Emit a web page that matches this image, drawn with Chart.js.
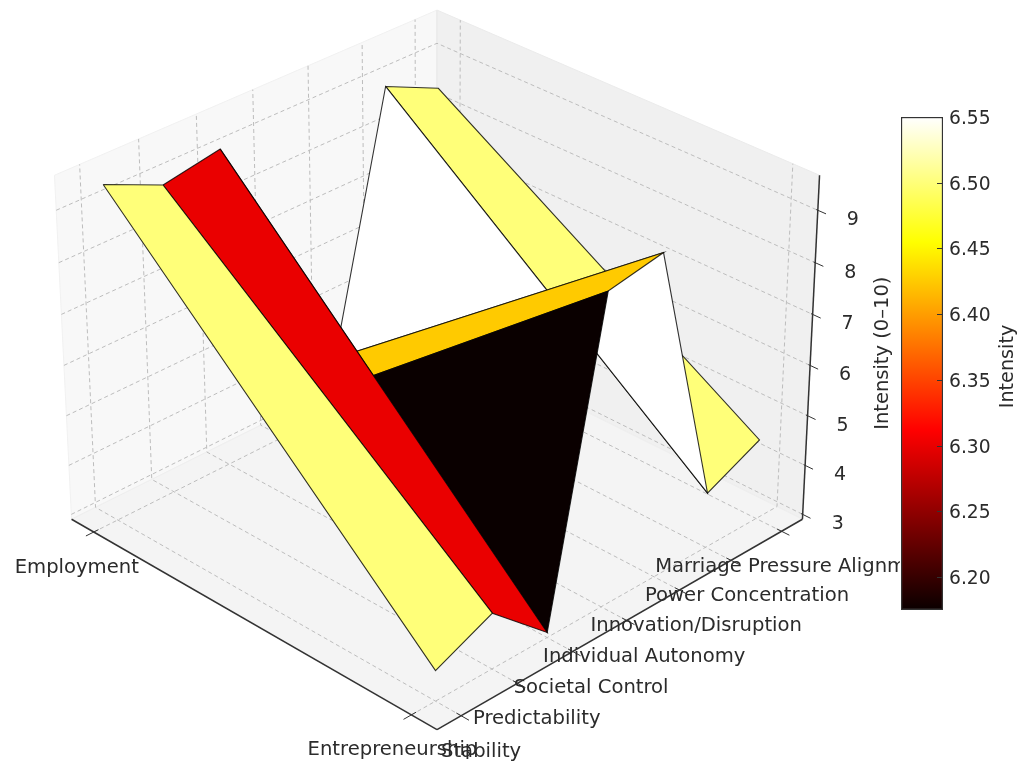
<!DOCTYPE html>
<html>
<head>
<meta charset="utf-8">
<title>Intensity surface</title>
<script src="https://cdn.jsdelivr.net/npm/chart.js@4"></script>
<style>
  html, body { margin: 0; padding: 0; background: #fff; overflow: hidden; }
  #wrap { position: relative; width: 1025px; height: 762px; filter: blur(0.45px); }
  #surface { position: absolute; left: 0; top: 0; }
  #colorbar { position: absolute; left: 900px; top: 0; background: #fff; }
</style>
</head>
<body>
<div id="wrap">
  <canvas id="surface" width="1025" height="762"></canvas>
  <canvas id="colorbar" width="125" height="762"></canvas>
</div>
<script>
// dados
const xCategories = ['Employment', 'Entrepreneurship'];
const yCategories = ['Stability', 'Predictability', 'Societal Control', 'Individual Autonomy',
  'Innovation/Disruption', 'Power Concentration', 'Marriage Pressure Alignment'];
const employmentValues = [9.5, 9.0, 9.2, 3.5, 4.0, 9.0, 8.5];
const entrepreneurshipValues = [3.5, 4.0, 3.0, 9.0, 9.2, 4.0, 4.5];
const zTicks = [3, 4, 5, 6, 7, 8, 9];
const colorbarTicks = [6.20, 6.25, 6.30, 6.35, 6.40, 6.45, 6.50, 6.55];

// limites dos eixos
const xLimits = [-0.075, 1.075];
const yLimits = [-0.42, 6.42];
const zLimits = [2.90, 9.66];
const colorLimits = [6.175, 6.55];

// camera
const elevation = 30 * Math.PI / 180;
const boxHeight = 0.531;
const cameraDistance = 11.6;
const viewScale = 373.8;
const viewCenter = [437, 351.2];

const FONT = 'DejaVu Sans';
const TEXT_COLOR = '#2b2b2b';
const GRID = { borderColor: '#bdbdbd', borderWidth: 1, borderDash: [4, 3] };
const AXIS = { borderColor: '#333333', borderWidth: 1.5 };

// colormap "hot"
const hotStops = [
  [0, [10, 0, 0]],
  [0.365, [255, 0, 0]],
  [0.746, [255, 255, 0]],
  [1, [255, 255, 255]]
];

function hotColor(t) {
  t = Math.min(1, Math.max(0, t));
  for (let i = 1; i < hotStops.length; i++) {
    const [t0, c0] = hotStops[i - 1];
    const [t1, c1] = hotStops[i];
    if (t <= t1) {
      const k = (t - t0) / (t1 - t0);
      return `rgb(${c0.map((c, n) => Math.round(c + (c1[n] - c) * k)).join(',')})`;
    }
  }
  return 'rgb(255,255,255)';
}

function unit(value, limits) {
  return (value - limits[0]) / (limits[1] - limits[0]);
}

// projeta coordenadas de dados no plano de visualização
function project(x, y, z) {
  const u = unit(x, xLimits);
  const v = unit(y, yLimits);
  const w = unit(z, zLimits);
  const side = u + v - 1;
  const depth = v - u;
  const height = boxHeight * (2 * w - 1);
  const up = height * Math.cos(elevation) + depth * Math.sin(elevation);
  const away = depth * Math.cos(elevation) - height * Math.sin(elevation);
  const f = 1 / (1 + away / cameraDistance);
  return { x: side * f, y: up * f };
}

function lineDataset(points, style) {
  return {
    data: points.map(p => project(...p)),
    showLine: true,
    fill: false,
    tension: 0,
    pointRadius: 0,
    pointHoverRadius: 0,
    ...style
  };
}

function polygonDataset(points, color, edge, edgeWidth) {
  return lineDataset([...points, points[0]], {
    fill: 'shape',
    backgroundColor: color,
    borderColor: edge,
    borderWidth: edgeWidth
  });
}

function buildPanes() {
  const [x0, x1] = xLimits;
  const [y0, y1] = yLimits;
  const [z0, z1] = zLimits;
  return [
    polygonDataset([[x0, y0, z0], [x0, y1, z0], [x0, y1, z1], [x0, y0, z1]], '#f8f8f8', '#f1f1f1', 1),
    polygonDataset([[x0, y1, z0], [x1, y1, z0], [x1, y1, z1], [x0, y1, z1]], '#f0f0f0', '#ebebeb', 1),
    polygonDataset([[x0, y0, z0], [x1, y0, z0], [x1, y1, z0], [x0, y1, z0]], '#f4f4f4', '#eeeeee', 1)
  ];
}

function buildGrid() {
  const [x0, x1] = xLimits;
  const [y0, y1] = yLimits;
  const [z0, z1] = zLimits;
  const lines = [];
  zTicks.forEach(z => {
    lines.push(lineDataset([[x0, y0, z], [x0, y1, z], [x1, y1, z]], GRID));
  });
  yCategories.forEach((_, y) => {
    lines.push(lineDataset([[x1, y, z0], [x0, y, z0], [x0, y, z1]], GRID));
  });
  xCategories.forEach((_, x) => {
    lines.push(lineDataset([[x, y0, z0], [x, y1, z0], [x, y1, z1]], GRID));
  });
  return lines;
}

function buildAxes() {
  const [x0, x1] = xLimits;
  const [y0, y1] = yLimits;
  const [z0, z1] = zLimits;
  const xSpan = x1 - x0;
  const ySpan = y1 - y0;
  const lines = [
    lineDataset([[x0, y0, z0], [x1, y0, z0]], AXIS),
    lineDataset([[x1, y0, z0], [x1, y1, z0]], AXIS),
    lineDataset([[x1, y1, z0], [x1, y1, z1]], AXIS)
  ];
  const tick = { borderColor: '#333333', borderWidth: 1 };
  xCategories.forEach((_, x) => {
    lines.push(lineDataset([[x, y0 - ySpan * 0.02, z0], [x, y0 + ySpan * 0.012, z0]], tick));
  });
  yCategories.forEach((_, y) => {
    lines.push(lineDataset([[x1 - xSpan * 0.012, y, z0], [x1 + xSpan * 0.02, y, z0]], tick));
  });
  zTicks.forEach(z => {
    lines.push(lineDataset([[x1 - xSpan * 0.004, y1, z], [x1 + xSpan * 0.02, y1, z]], tick));
  });
  return lines;
}

// faces da superfície, do fundo para a frente
function buildSurface() {
  const faces = [];
  for (let j = yCategories.length - 2; j >= 0; j--) {
    const mean = (employmentValues[j] + entrepreneurshipValues[j] +
      employmentValues[j + 1] + entrepreneurshipValues[j + 1]) / 4;
    faces.push(polygonDataset([
      [0, j, employmentValues[j]],
      [1, j, entrepreneurshipValues[j]],
      [1, j + 1, entrepreneurshipValues[j + 1]],
      [0, j + 1, employmentValues[j + 1]]
    ], hotColor(unit(mean, colorLimits)), 'rgba(0,0,0,0.8)', 1.1));
  }
  return faces;
}

// textos dos eixos 3D
const axisLabels = {
  id: 'axisLabels',
  afterDraw(chart) {
    const { ctx, scales } = chart;
    const x1 = xLimits[1];
    const [y0, y1] = yLimits;
    const z0 = zLimits[0];
    const put = (text, p, dx, dy) => {
      ctx.fillText(text, scales.x.getPixelForValue(p.x) + dx, scales.y.getPixelForValue(p.y) + dy);
    };
    ctx.save();
    ctx.font = `19.6px "${FONT}"`;
    ctx.fillStyle = TEXT_COLOR;
    ctx.textAlign = 'center';
    ctx.textBaseline = 'middle';
    xCategories.forEach((label, x) => put(label, project(x, y0, z0), x === 0 ? -17 : -19, 35.5));
    yCategories.forEach((label, y) => put(label, project(x1, y, z0), 20 - 0.8 * y, 36));

    ctx.font = `19px "${FONT}"`;
    zTicks.forEach(z => put(String(z), project(x1, y1, z), 35, 10));

    const mid = project(x1, y1, (zLimits[0] + zLimits[1]) / 2);
    ctx.font = `19.5px "${FONT}"`;
    ctx.translate(scales.x.getPixelForValue(mid.x) + 72, scales.y.getPixelForValue(mid.y) + 2);
    ctx.rotate(-Math.PI / 2);
    ctx.fillText('Intensity (0\u201310)', 0, 0);
    ctx.restore();
  }
};

new Chart(document.getElementById('surface'), {
  type: 'scatter',
  data: {
    datasets: [...buildPanes(), ...buildGrid(), ...buildAxes(), ...buildSurface()].reverse()
  },
  options: {
    responsive: false,
    animation: false,
    layout: { padding: 0 },
    events: [],
    plugins: { legend: { display: false }, tooltip: { enabled: false } },
    scales: {
      x: {
        display: false,
        min: -viewCenter[0] / viewScale,
        max: (1025 - viewCenter[0]) / viewScale
      },
      y: {
        display: false,
        min: (viewCenter[1] - 762) / viewScale,
        max: viewCenter[1] / viewScale
      }
    }
  },
  plugins: [axisLabels]
});

// barra de cores
function hotGradient(context) {
  const { ctx, chartArea } = context.chart;
  if (!chartArea) return '#000';
  const gradient = ctx.createLinearGradient(0, chartArea.bottom, 0, chartArea.top);
  hotStops.forEach(([t]) => gradient.addColorStop(t, hotColor(t)));
  return gradient;
}

const colorbarExtras = {
  id: 'colorbarExtras',
  afterDatasetsDraw(chart) {
    const { ctx, chartArea, scales } = chart;
    ctx.save();
    ctx.strokeStyle = '#333333';
    ctx.lineWidth = 1;
    scales.y.ticks.forEach(t => {
      const py = Math.round(scales.y.getPixelForValue(t.value)) + 0.5;
      ctx.beginPath();
      ctx.moveTo(chartArea.right - 6, py);
      ctx.lineTo(chartArea.right, py);
      ctx.stroke();
    });
    // título lido de baixo para cima
    ctx.translate(108, (chartArea.top + chartArea.bottom) / 2 + 3);
    ctx.rotate(-Math.PI / 2);
    ctx.font = `19.2px "${FONT}"`;
    ctx.fillStyle = TEXT_COLOR;
    ctx.textAlign = 'center';
    ctx.textBaseline = 'middle';
    ctx.fillText('Intensity', 0, 0);
    ctx.restore();
  }
};

new Chart(document.getElementById('colorbar'), {
  type: 'bar',
  data: {
    labels: ['Intensity'],
    datasets: [{
      data: [colorLimits],
      backgroundColor: hotGradient,
      borderColor: '#333333',
      borderWidth: 1.5,
      borderSkipped: false,
      barPercentage: 1,
      categoryPercentage: 1
    }]
  },
  options: {
    responsive: false,
    animation: false,
    events: [],
    layout: { padding: { left: 1, top: 117, bottom: 152, right: 0 } },
    plugins: { legend: { display: false }, tooltip: { enabled: false } },
    scales: {
      x: { display: false },
      y: {
        position: 'right',
        min: colorLimits[0],
        max: colorLimits[1],
        afterBuildTicks: scale => { scale.ticks = colorbarTicks.map(value => ({ value })); },
        afterFit: scale => { scale.width = 82; },
        grid: { display: false, drawTicks: false },
        border: { display: false },
        ticks: {
          autoSkip: false,
          padding: 6,
          labelOffset: 2,
          color: TEXT_COLOR,
          font: { family: FONT, size: 18.7 },
          callback: value => value.toFixed(2)
        }
      }
    }
  },
  plugins: [colorbarExtras]
});
</script>
</body>
</html>
